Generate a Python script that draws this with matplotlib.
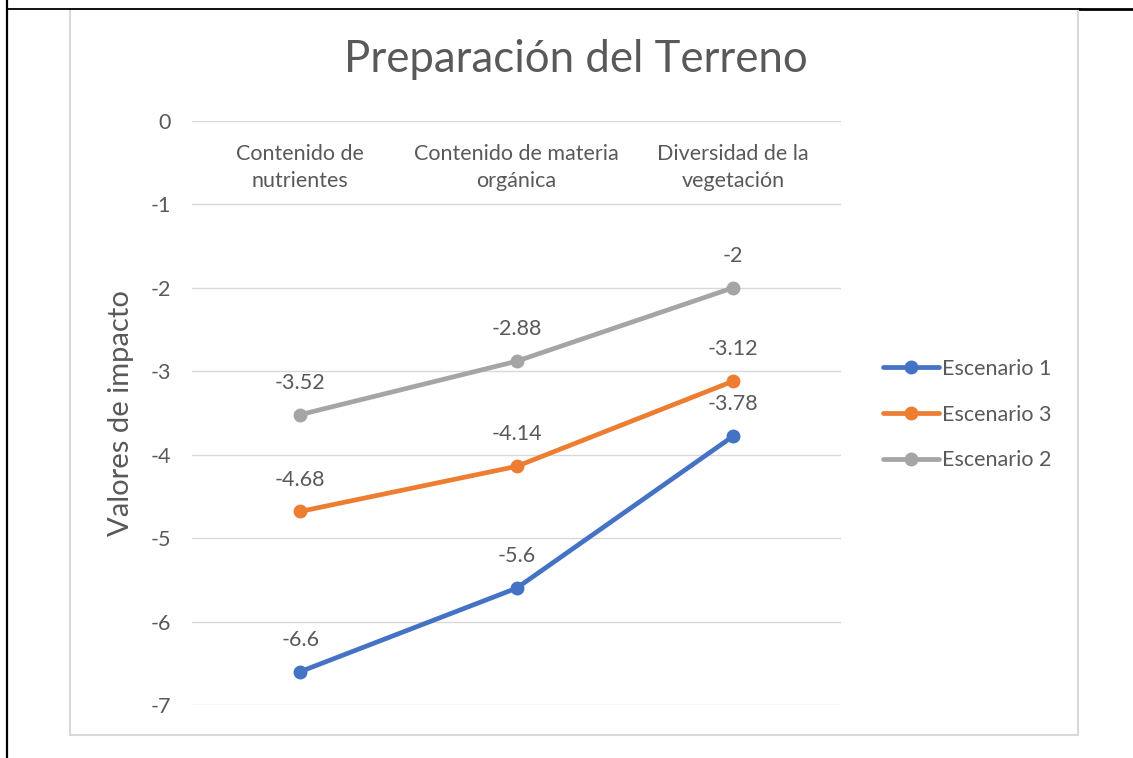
import matplotlib.pyplot as plt
from matplotlib.patches import Rectangle
from matplotlib.lines import Line2D

plt.rcParams['font.family'] = ['Lato', 'DejaVu Sans']

categories = ["Contenido de\nnutrientes", "Contenido de materia\norgánica", "Diversidad de la\nvegetación"]
series_names = ["Escenario 1", "Escenario 3", "Escenario 2"]
esc1 = [-6.6, -5.6, -3.78]
esc3 = [-4.68, -4.14, -3.12]
esc2 = [-3.52, -2.88, -2]
yticks = [0, -1, -2, -3, -4, -5, -6, -7]

colors = ["#4472C4", "#ED7D31", "#A5A5A5"]
txt = "#595959"

fig = plt.figure(figsize=(11.33, 7.58), dpi=100)
ax = fig.add_axes([0.1695, 0.0699, 0.5728, 0.7705])

x = list(range(len(categories)))
for name, vals, c in zip(series_names, [esc1, esc3, esc2], colors):
    ax.plot(x, vals, color=c, lw=3.4, marker="o", markersize=9, label=name,
            solid_capstyle="round", clip_on=False, zorder=3)
    for xi, v in zip(x, vals):
        ax.annotate(f"{v:g}", (xi, v), textcoords="offset points", xytext=(0, 23),
                    ha="center", va="center", fontsize=15.5, color=txt)

for xi, cat in zip(x, categories):
    ax.text(xi, -0.27, cat, ha="center", va="top", fontsize=15.5, color=txt,
            linespacing=1.45)

ax.set_xlim(-0.5, 2.5)
ax.set_ylim(-7, 0)
ax.set_yticks(yticks)
ax.set_yticklabels([str(t) for t in yticks])
ax.set_xticks([])
ax.tick_params(axis="y", length=0, pad=15, labelsize=15.5, labelcolor=txt)
ax.grid(axis="y", color="#d9d9d9", lw=1)
ax.set_axisbelow(True)
for s in ax.spines.values():
    s.set_visible(False)
ax.set_ylabel("Valores de impacto", fontsize=21, color=txt, labelpad=12)

fig.text(0.508, 0.921, "Preparación del Terreno", ha="center", va="center",
         fontsize=31.5, color=txt)

leg = fig.legend(loc="center left", bbox_to_anchor=(0.762, 0.453), frameon=False,
                 fontsize=15.5, handlelength=2.6, handletextpad=0.15, labelspacing=1.2,
                 labelcolor=txt)

# chart frame and surrounding table borders
fig.patches.append(Rectangle((0.0618, 0.0303), 0.8897, 0.9578, transform=fig.transFigure,
                             fill=False, edgecolor="#d9d9d9", lw=1.5))
fig.lines.append(Line2D([0.0062, 0.0062], [0, 1], transform=fig.transFigure, color="black", lw=1.6))
fig.lines.append(Line2D([0.0062, 0.953], [0.9875, 0.9875], transform=fig.transFigure, color="black", lw=1.3))
fig.lines.append(Line2D([0.953, 1], [0.9875, 0.9875], transform=fig.transFigure, color="black", lw=2))

fig.savefig("out.png", dpi=100)
